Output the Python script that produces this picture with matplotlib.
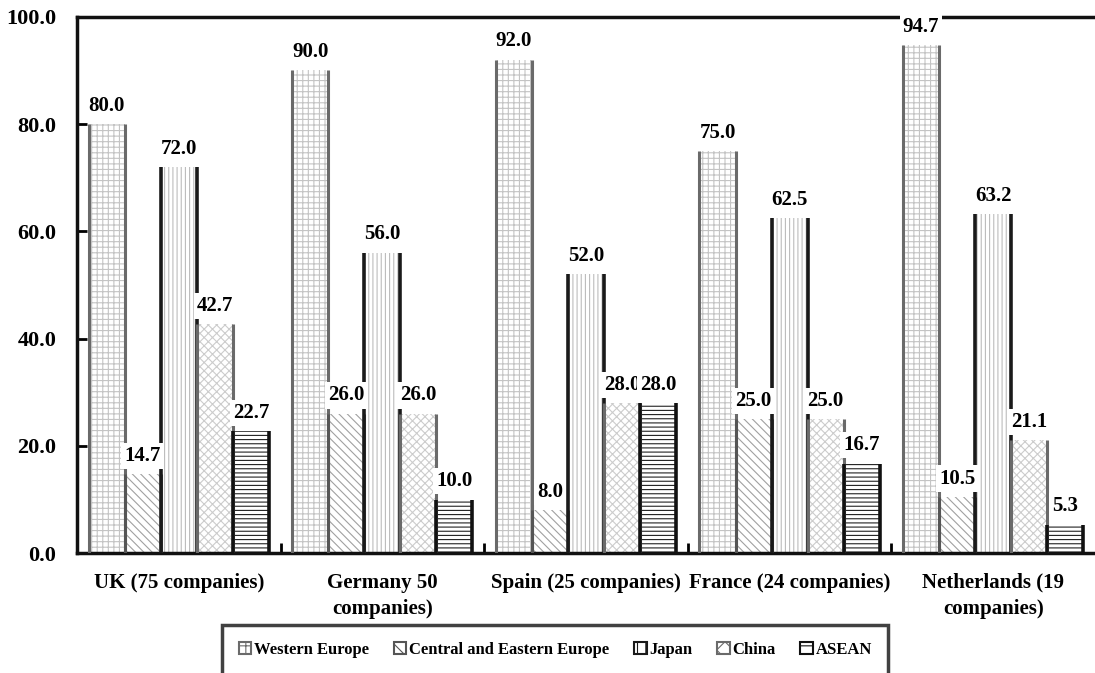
import numpy as np
import matplotlib.pyplot as plt
from matplotlib.patches import Patch

plt.rcParams['font.family'] = ['Liberation Serif', 'DejaVu Serif']
plt.rcParams['font.weight'] = 'bold'
plt.rcParams['hatch.linewidth'] = 0.8

countries = ['UK (75 companies)', 'Germany 50\ncompanies)', 'Spain (25 companies)',
             'France (24 companies)', 'Netherlands (19\ncompanies)']
regions = ['Western Europe', 'Central and Eastern Europe', 'Japan', 'China', 'ASEAN']

western = [80.0, 90.0, 92.0, 75.0, 94.7]
cee = [14.7, 26.0, 8.0, 25.0, 10.5]
japan = [72.0, 56.0, 52.0, 62.5, 63.2]
china = [42.7, 26.0, 28.0, 25.0, 21.1]
asean = [22.7, 10.0, 28.0, 16.7, 5.3]
series = [western, cee, japan, china, asean]

# hatch, hatch colour, side colour, side width per region
styles = [
    ('+++', '#c4c4c4', '#6a6a6a', 2.2),
    ('\\\\\\\\', '#a0a0a0', '#555555', 2.2),
    ('||||', '#bcbcbc', '#1a1a1a', 2.6),
    ('xxxx', '#cccccc', '#6a6a6a', 2.2),
    ('----', '#222222', '#111111', 2.6),
]

fig = plt.figure(figsize=(10.95, 6.73), dpi=100)
ax = fig.add_axes([0.0703, 0.178, 0.9297, 0.797])

x = np.arange(len(countries))
w = 0.177

for j, (vals, (h, hc, ec, lw)) in enumerate(zip(series, styles)):
    pos = x + (j - 2) * w
    ax.bar(pos, vals, w, color='white', hatch=h, edgecolor=hc, linewidth=0, zorder=2)
    # only the vertical sides of each bar are outlined
    ax.vlines(np.concatenate([pos - w / 2, pos + w / 2]), 0, vals + vals,
              colors=ec, linewidth=lw, zorder=3)

# value labels on white boxes above each bar
for j, vals in enumerate(series):
    for i, v in enumerate(vals):
        ax.annotate(f'{v:.1f}', (x[i] + (j - 2) * w, v), xytext=(0, 6),
                    textcoords='offset points', ha='center', va='bottom',
                    fontsize=15, fontweight='bold', zorder=5,
                    bbox=dict(boxstyle='square,pad=0.15', fc='white', ec='none'))

ax.set_xlim(-0.5, 4.5)
ax.set_ylim(0, 100)
ax.set_yticks(np.arange(0, 101, 20))
ax.set_yticklabels([f'{t:.1f}' for t in np.arange(0, 101, 20)], fontsize=16)
ax.set_xticks(x)
ax.set_xticklabels(countries, fontsize=15, linespacing=1.4)
ax.set_xticks(np.arange(0.5, 4.5, 1), minor=True)
ax.tick_params(axis='x', which='major', length=0, pad=14)
ax.tick_params(axis='x', which='minor', direction='in', length=7, width=2)
ax.tick_params(axis='y', direction='in', length=7, width=2, pad=15)

for s in ['left', 'bottom', 'top']:
    ax.spines[s].set_linewidth(2.5)
    ax.spines[s].set_color('#111111')
ax.spines['right'].set_visible(False)

handles = [Patch(facecolor='white', edgecolor=ec, hatch=h[:2], linewidth=1.5)
           for h, hc, ec, lw in styles]
leg = fig.legend(handles, regions, loc='upper left', bbox_to_anchor=(0.203, 0.071),
                 ncol=5, frameon=True, fancybox=False, fontsize=12,
                 handlelength=0.75, handleheight=0.75, handletextpad=0.15,
                 columnspacing=1.5, borderpad=1.0, borderaxespad=0)
leg.get_frame().set_edgecolor('#111111')
leg.get_frame().set_linewidth(2.5)

fig.savefig('out.png', dpi=100)
